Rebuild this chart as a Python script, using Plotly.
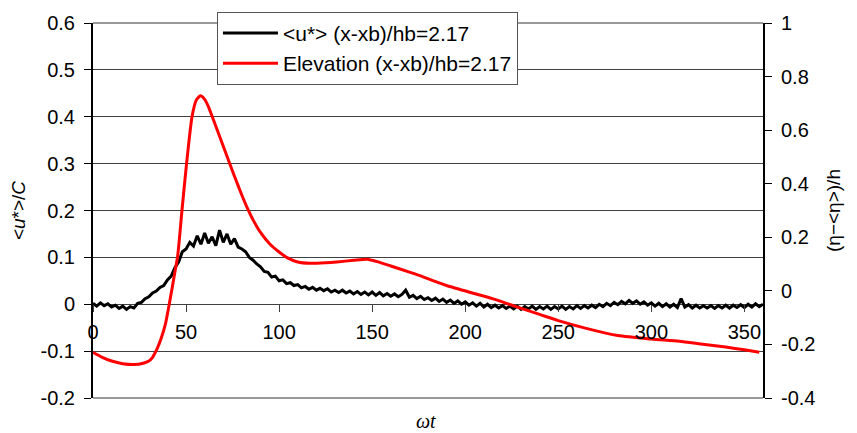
import plotly.graph_objects as go

# ---------------- data ----------------
# <u*>/C (left axis), sampled every 2 units of wt
black_t = list(range(0, 361, 2))
black_v = [
    0.002, -0.004, 0.003, -0.003, 0.001, -0.006, -0.002, -0.009, -0.004, -0.011,
    -0.005, -0.008, 0.002, 0.004, 0.012, 0.016, 0.024, 0.028, 0.036, 0.040,
    0.052, 0.060, 0.078, 0.090, 0.112, 0.118, 0.132, 0.124, 0.146, 0.128,
    0.152, 0.130, 0.144, 0.125, 0.158, 0.132, 0.150, 0.128, 0.140, 0.122,
    0.118, 0.112, 0.100, 0.094, 0.086, 0.080, 0.070, 0.068, 0.058, 0.060,
    0.050, 0.052, 0.044, 0.046, 0.040, 0.042, 0.035, 0.038, 0.032, 0.036,
    0.030, 0.034, 0.029, 0.033, 0.026, 0.030, 0.025, 0.030, 0.024, 0.028,
    0.022, 0.027, 0.021, 0.026, 0.020, 0.026, 0.019, 0.025, 0.018, 0.023,
    0.017, 0.022, 0.016, 0.021, 0.030, 0.015, 0.019, 0.012, 0.017, 0.010,
    0.014, 0.008, 0.013, 0.006, 0.011, 0.004, 0.009, 0.002, 0.007, 0.000,
    0.005, -0.002, 0.003, -0.004, 0.002, -0.006, 0.000, -0.007, -0.002, -0.008,
    -0.003, -0.009, -0.004, -0.010, -0.004, -0.011, -0.005, -0.010, -0.004, -0.011,
    -0.005, -0.010, -0.004, -0.011, -0.005, -0.010, -0.004, -0.011, -0.005, -0.010,
    -0.003, -0.009, -0.003, -0.008, -0.002, -0.007, 0.000, -0.005, 0.002, -0.003,
    0.004, -0.001, 0.006, 0.001, 0.008, 0.002, 0.007, 0.000, 0.005, -0.002,
    0.003, -0.004, 0.002, -0.005, 0.001, -0.006, 0.000, -0.007, 0.012, -0.006,
    -0.001, -0.008, -0.002, -0.008, -0.003, -0.008, -0.003, -0.009, -0.003, -0.008,
    -0.002, -0.008, -0.002, -0.007, -0.001, -0.007, 0.000, -0.006, 0.001, -0.005,
    0.000,
]

# Elevation (right axis)
red_t = [0, 5, 10, 16, 22, 27, 30, 32, 34.4, 36.5, 38.9, 40.7, 42.5, 44, 45.5,
         47.8, 50.2, 53.2, 55.5, 57.7, 60, 62, 65, 68, 71, 74, 77, 80, 83, 86,
         90, 95, 100, 104, 110, 116.8, 125, 131, 140, 147.3, 152.7, 160, 170,
         176, 183, 190, 202.8, 215, 226, 240, 250, 265, 282, 300, 315, 326.5,
         340, 350, 358]
red_v = [-0.229, -0.248, -0.262, -0.272, -0.275, -0.270, -0.262, -0.248, -0.217,
         -0.180, -0.124, -0.060, 0.010, 0.070, 0.130, 0.300, 0.470, 0.650, 0.712,
         0.728, 0.715, 0.688, 0.633, 0.577, 0.521, 0.465, 0.410, 0.357, 0.308,
         0.265, 0.218, 0.175, 0.145, 0.125, 0.108, 0.103, 0.105, 0.108, 0.114,
         0.118, 0.109, 0.093, 0.070, 0.056, 0.037, 0.020, -0.006, -0.030, -0.056,
         -0.088, -0.111, -0.140, -0.167, -0.180, -0.188, -0.198, -0.210, -0.220,
         -0.229]

series_names = ["<u*> (x-xb)/hb=2.17", "Elevation (x-xb)/hb=2.17"]

x_ticks = [0, 50, 100, 150, 200, 250, 300, 350]
x_ticktext = ["0", "50", "100", "150", "200", "250", "300", "350"]
yl_ticks = [-0.2, -0.1, 0, 0.1, 0.2, 0.3, 0.4, 0.5, 0.6]
yl_ticktext = ["-0.2", "-0.1", "0", "0.1", "0.2", "0.3", "0.4", "0.5", "0.6"]
yr_ticks = [-0.4, -0.2, 0, 0.2, 0.4, 0.6, 0.8, 1.0]
yr_ticktext = ["-0.4", "-0.2", "0", "0.2", "0.4", "0.6", "0.8", "1"]

FONT = "Arial, Liberation Sans, sans-serif"

fig = go.Figure()
fig.add_trace(go.Scatter(x=black_t, y=black_v, name=series_names[0], mode="lines",
                         line=dict(color="#000000", width=3), yaxis="y",
                         legendgroup="a"))
fig.add_trace(go.Scatter(x=red_t, y=red_v, name=series_names[1], mode="lines",
                         line=dict(color="#ff0000", width=3, shape="spline", smoothing=0.6),
                         yaxis="y2", legendgroup="b"))

fig.update_layout(
    width=857, height=433,
    margin=dict(l=93, r=94, t=20, b=35),
    paper_bgcolor="white", plot_bgcolor="white",
    font=dict(family=FONT, size=20, color="black"),
    showlegend=True,
    legend=dict(x=0.185, y=1.03, xanchor="left", yanchor="top",
                bgcolor="white", bordercolor="#555555", borderwidth=1,
                font=dict(size=21), tracegroupgap=0, itemwidth=55),
    xaxis=dict(range=[0, 360], tickvals=x_ticks, ticktext=x_ticktext,
               anchor="free", position=0.25, showline=False, showgrid=False,
               zeroline=False, ticks="outside", ticklen=7, tickcolor="#404040",
               tickwidth=1, ticklabelstandoff=3, tickfont=dict(size=20)),
    yaxis=dict(range=[-0.2, 0.6], tickvals=yl_ticks, ticktext=yl_ticktext,
               showgrid=True, gridcolor="#404040", gridwidth=1, zeroline=False,
               showline=True, linecolor="black", linewidth=2,
               ticks="outside", ticklen=7, tickcolor="black", ticklabelstandoff=5,
               title=dict(text="<<i>u</i>*>/<i>C</i>", font=dict(size=19), standoff=10)),
    yaxis2=dict(range=[-0.4, 1.0], tickvals=yr_ticks, ticktext=yr_ticktext,
                overlaying="y", side="right", anchor="x", showgrid=False,
                zeroline=False, showline=True, linecolor="black", linewidth=2,
                ticks="outside", ticklen=7, tickcolor="black", ticklabelstandoff=5,
                title=dict(text="(η−<η>)/h", font=dict(size=19), standoff=12)),
    yaxis3=dict(range=[-0.4, 1.0], tickvals=yr_ticks, overlaying="y", side="right",
                anchor="x", showgrid=False, zeroline=False, showline=False,
                showticklabels=False, ticks="inside", ticklen=7, tickcolor="black"),
    shapes=[
        dict(type="line", xref="paper", yref="paper", x0=0, x1=1, y0=1, y1=1,
             line=dict(color="#999999", width=2)),
        dict(type="line", xref="paper", yref="paper", x0=0, x1=1, y0=0, y1=0,
             line=dict(color="#999999", width=2)),
    ],
    annotations=[
        dict(text="<i>ωt</i>", xref="paper", yref="paper", x=0.497, y=-0.062,
             xanchor="center", yanchor="middle", showarrow=False,
             font=dict(family="Times New Roman, Liberation Serif, serif", size=20)),
    ],
)

fig.write_html("out.html")
